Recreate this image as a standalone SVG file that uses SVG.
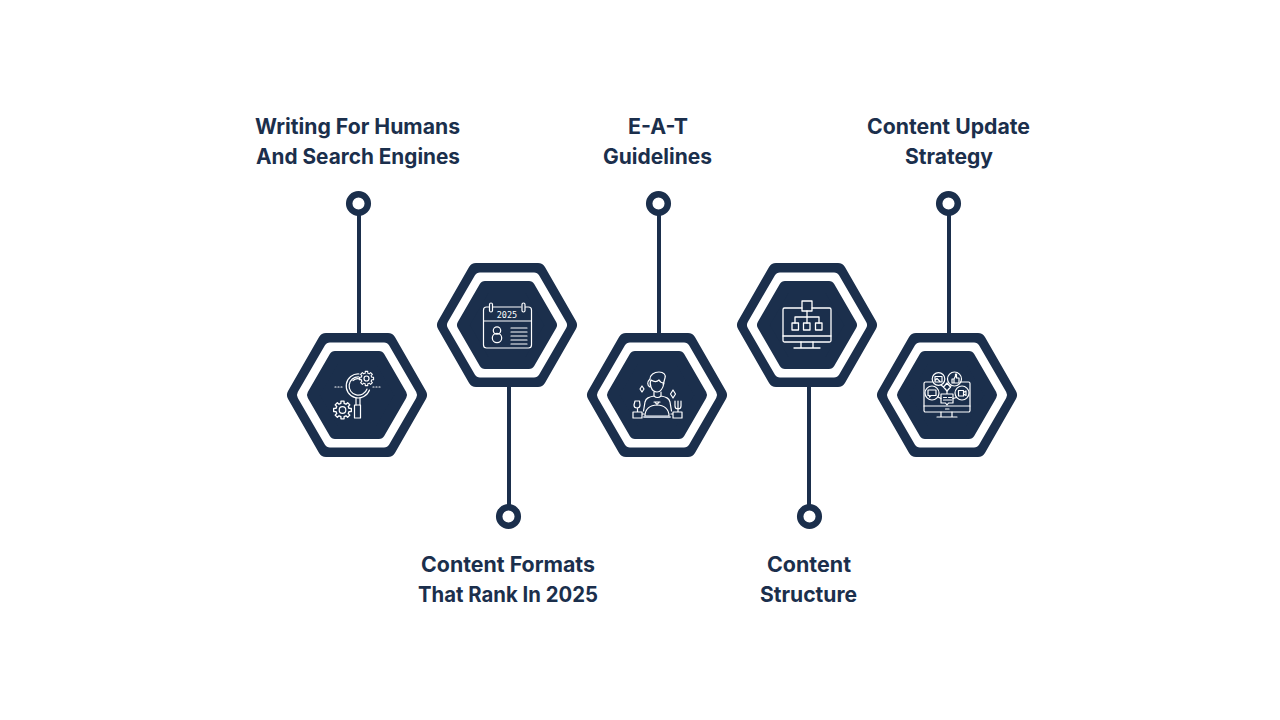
<svg xmlns="http://www.w3.org/2000/svg" xmlns:xlink="http://www.w3.org/1999/xlink" width="1280" height="720" viewBox="0 0 1280 720">
<style>
text{font-family:"Inter","Liberation Sans",sans-serif;font-weight:700;font-size:21.2px;fill:#1b2f4c;text-anchor:middle}
.c{stroke:#1b2f4c;stroke-width:4;fill:none}
.d{fill:#fff;stroke:#1b2f4c;stroke-width:6.500}
.i{fill:none;stroke:#fff;stroke-width:1.200;stroke-linecap:round;stroke-linejoin:round}
.o{fill:#1b2f4c;stroke:#1b2f4c;stroke-width:16;stroke-linejoin:round}
.w{fill:#fff;stroke:#fff;stroke-width:12;stroke-linejoin:round}
.n{fill:#1b2f4c;stroke:#1b2f4c;stroke-width:12;stroke-linejoin:round}
</style>
<defs>
<g id="hex">
<polygon class="o" points="-31,-54 31,-54 62,0 31,54 -31,54 -62,0"/>
<polygon class="w" points="-27,-46.500 27,-46.500 54,0 27,46.500 -27,46.500 -54,0"/>
<polygon class="n" points="-22,-38 22,-38 44,0 22,38 -22,38 -44,0"/>
</g>
<path id="gear" d="M5.820-1.450L7.880-1.390 7.880 1.390 5.820 1.450 5.140 3.090 6.550 4.590 4.590 6.550 3.090 5.140 1.450 5.820 1.390 7.880-1.390 7.880-1.450 5.820-3.090 5.140-4.590 6.550-6.550 4.590-5.140 3.090-5.820 1.450-7.880 1.390-7.880-1.390-5.820-1.450-5.140-3.090-6.550-4.590-4.590-6.550-3.090-5.140-1.450-5.820-1.390-7.880 1.390-7.880 1.450-5.820 3.090-5.140 4.590-6.550 6.550-4.590 5.140-3.090Z"/>
</defs>
<rect width="1280" height="720" fill="#fff"/>
<g id="connectors">
<line class="c" x1="359" y1="203" x2="359" y2="335"/>
<line class="c" x1="509" y1="385" x2="509" y2="516"/>
<line class="c" x1="659" y1="203" x2="659" y2="335"/>
<line class="c" x1="809" y1="385" x2="809" y2="516"/>
<line class="c" x1="949" y1="203" x2="949" y2="335"/>
<circle class="d" cx="358.500" cy="203.500" r="9.300"/>
<circle class="d" cx="508.500" cy="516.500" r="9.300"/>
<circle class="d" cx="658.500" cy="203.500" r="9.300"/>
<circle class="d" cx="809.500" cy="516.500" r="9.300"/>
<circle class="d" cx="948.500" cy="203.500" r="9.300"/>
</g>
<g id="node1">
<use xlink:href="#hex" href="#hex" x="357" y="395"/>
<text x="357.500" y="133.500" textLength="205" lengthAdjust="spacingAndGlyphs">Writing For Humans</text>
<text x="358" y="163.500" textLength="204" lengthAdjust="spacingAndGlyphs">And Search Engines</text>
<g class="i" id="icon1">
<path d="M359 374A12 12 0 1 0 369.500 390"/>
<path d="M358.500 376.800A9.200 9.200 0 1 0 367 389"/>
<path d="M353 380.500a7 7 0 0 1 8-1"/>
<path d="M356 398v7M360 398v7"/>
<path d="M354.500 405h6v13h-6z"/>
<use href="#gear" xlink:href="#gear" transform="translate(366.500 378.500) scale(.9)"/>
<circle cx="366.500" cy="378.500" r="2.500"/>
<use href="#gear" xlink:href="#gear" transform="translate(342.500 410) scale(1.120)"/>
<circle cx="342.500" cy="410" r="3.300"/>
<path d="M335 387h1M338 387h1M341 387h1M373 387h1M376 387h1M379 387h1"/>
</g>
</g>
<g id="node2">
<use xlink:href="#hex" href="#hex" x="507" y="325"/>
<text x="508" y="571.500" textLength="174" lengthAdjust="spacingAndGlyphs">Content Formats</text>
<text x="508" y="601.500" textLength="180" lengthAdjust="spacingAndGlyphs">That Rank In 2025</text>
<g class="i" id="icon2">
<path d="M489 307h-2.500a3 3 0 0 0-3 3v35a3 3 0 0 0 3 3h42a3 3 0 0 0 3-3v-35a3 3 0 0 0-3-3h-3M493 307h28"/>
<rect x="489.500" y="303" width="3" height="9" rx="1.500"/>
<rect x="522" y="303" width="3" height="9" rx="1.500"/>
<path d="M483.500 321h47.500"/>
<circle cx="497" cy="330.500" r="3.700"/><circle cx="497" cy="338" r="4.700"/>
<path d="M511 328h16M511 332h16M511 336h16M511 340h16M511 344h16"/>
<text x="507" y="318" style="font-family:'DejaVu Sans Mono','Liberation Mono',monospace;font-size:8.500px;font-weight:400;fill:#fff;stroke:none">2025</text>
</g>
</g>
<g id="node3">
<use xlink:href="#hex" href="#hex" x="657" y="395"/>
<text x="658" y="133.500" textLength="60" lengthAdjust="spacingAndGlyphs">E-A-T</text>
<text x="657.500" y="163.500" textLength="109" lengthAdjust="spacingAndGlyphs">Guidelines</text>
<g class="i" id="icon3">
<path d="M650 379c0-4 4-7 9-7 5 0 7 3 6 6-1 3-1 5-2 6M650 379c-3 3-3 6 0 8"/>
<path d="M651 380c3 2 6 2 8 0 1 2 3 3 5 3-1 5-3 9-7 9-3 0-5-2-6-5-1-2-1-5 0-7z"/>
<path d="M654 392v4c2 2 5 2 7 0v-4M654 396c-5 1-8 2-9 6l-1.500 9M661 396c5 1 8 2 9 6l1.500 9"/>
<path d="M645 416c0-7 5-11 12-11s12 4 12 11z"/>
<path d="M644 417h26" stroke-width="1.800" stroke="#bcc6d4"/>
<path d="M654 402h6M655 402c0 2 4 2 4 0M657 404v1"/>
<path d="M642 386l2 3-2 3-2-3zM673 390l2.500 4-2.500 4-2.500-4z"/>
<path d="M635 401h4.500l.5 4c0 2-1 3-3 3s-3-1-3-3zM637.500 408v4M633 412h9v6h-9zM642 414h2"/>
<path d="M678 401v11M675 401v5c0 2 1 3 3 3s3-1 3-3v-5M673 412h9v6h-9zM673 414h-2"/>
</g>
</g>
<g id="node4">
<use xlink:href="#hex" href="#hex" x="807" y="325"/>
<text x="809" y="571.500" textLength="84" lengthAdjust="spacingAndGlyphs">Content</text>
<text x="808.500" y="601.500" textLength="97" lengthAdjust="spacingAndGlyphs">Structure</text>
<g class="i" id="icon4" style="stroke-width:1.300">
<path d="M802 308h-17.500a1.500 1.500 0 0 0-1.500 1.500v31a1.500 1.500 0 0 0 1.500 1.500h45a1.500 1.500 0 0 0 1.500-1.500v-31a1.500 1.500 0 0 0-1.500-1.500h-17.500"/>
<rect x="802" y="301" width="10" height="10"/>
<path d="M807 311v6M795 323v-6h24v6M807 317v6"/>
<rect x="792" y="323" width="6.500" height="7"/><rect x="803.500" y="323" width="6.500" height="7"/><rect x="815.500" y="323" width="6.500" height="7"/>
<path d="M783 336h48M801 342v6M813 342v6M794 348h26"/>
</g>
</g>
<g id="node5">
<use xlink:href="#hex" href="#hex" x="947" y="395"/>
<text x="948.500" y="133.500" textLength="163" lengthAdjust="spacingAndGlyphs">Content Update</text>
<text x="949" y="163.500" textLength="88" lengthAdjust="spacingAndGlyphs">Strategy</text>
<g class="i" id="icon5">
<path d="M932 382h-6.500a1.500 1.500 0 0 0-1.500 1.500v27a1.500 1.500 0 0 0 1.500 1.500h43a1.500 1.500 0 0 0 1.500-1.500v-27a1.500 1.500 0 0 0-1.500-1.500h-7.500"/>
<path d="M924 406h46M945.500 409h3.500M941 412v5M952 412v5M937 417h20"/>
<circle cx="938.500" cy="379" r="6.300"/><circle cx="954.500" cy="379" r="7"/>
<circle cx="932" cy="393" r="7"/><circle cx="962" cy="393" r="7"/>
<path d="M947 383l3.500 4-3.500 4-3.500-4z"/>
<path d="M947 391v3M941 394h12v9h-4.500l-1.500 2-1.500-2h-4.500z"/>
<path d="M943.500 397.500h3M948.500 397.500h3M943.500 400h8"/>
<path d="M935 376.500h7v5.500h-7zM935 380.500l2-2 3 3M952 379v4h2v-4zM954 379l1.500-3v-2h1v4h2.500v5h-5"/>
<path d="M928 390h8v5.500h-5l-1.500 1.500v-1.500h-1.500zM958.500 390.500h5v5.500h-5zM963.500 392.500l2.500-1.500v4.500l-2.500-1.500"/>
<path d="M941 385l2.500 2M951 385.500l-.500 1.500M938 397l3 1.500M956.500 397.500l-3.500 1"/>
</g>
</g>
</svg>
